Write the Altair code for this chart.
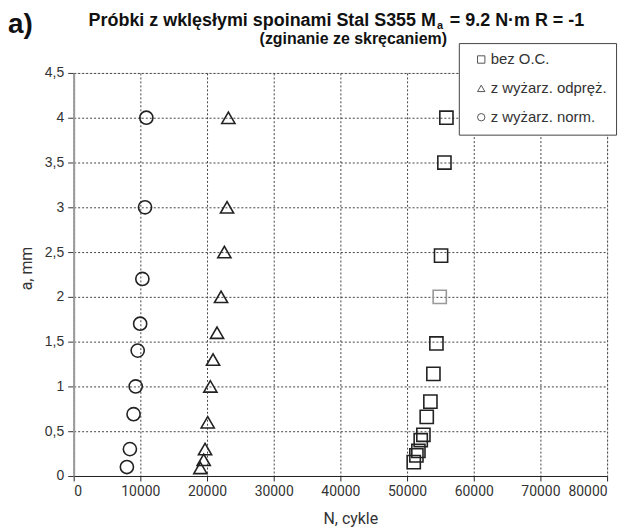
import altair as alt
import pandas as pd

# --- data ---
series_names = ["bez O.C.", "z wyżarz. odpręż.", "z wyżarz. norm."]

sq_N = [55900, 55600, 55100, 54900, 54400, 53950, 53500, 52950, 52450, 52050, 51700, 51400, 51000]
sq_a = [4.0, 3.5, 2.46, 2.0, 1.48, 1.14, 0.83, 0.66, 0.46, 0.40, 0.28, 0.23, 0.155]
sq_gray = [0, 0, 0, 1, 0, 0, 0, 0, 0, 0, 0, 0, 0]

tr_N = [23200, 23000, 22600, 22100, 21500, 20900, 20500, 20100, 19700, 19500, 19000]
tr_a = [4.0, 3.0, 2.5, 2.0, 1.6, 1.3, 1.0, 0.6, 0.3, 0.18, 0.09]

ci_N = [10900, 10700, 10300, 9970, 9600, 9300, 8980, 8430, 7980]
ci_a = [4.0, 3.0, 2.2, 1.7, 1.4, 1.0, 0.69, 0.30, 0.10]

x_ticks = [0, 10000, 20000, 30000, 40000, 50000, 60000, 70000, 80000]
y_ticks = [0, 0.5, 1, 1.5, 2, 2.5, 3, 3.5, 4, 4.5]

title_left = "Próbki z wklęsłymi spoinami Stal S355  M"
title_sub = "a"
title_right = "= 9.2 N·m R = -1"
title_line2 = "(zginanie ze skręcaniem)"
panel_label = "a)"

rows = []
for n, a, g in zip(sq_N, sq_a, sq_gray):
    rows.append({"N": n, "a": a, "seria": series_names[0], "gray": g})
for n, a in zip(tr_N, tr_a):
    rows.append({"N": n, "a": a, "seria": series_names[1], "gray": 0})
for n, a in zip(ci_N, ci_a):
    rows.append({"N": n, "a": a, "seria": series_names[2], "gray": 0})
df = pd.DataFrame(rows)

x_scale = alt.Scale(domain=[0, 80000], nice=False, zero=False)
y_scale = alt.Scale(domain=[0, 4.5], nice=False)

points = alt.Chart(df).mark_point(filled=False, strokeWidth=1.6, opacity=1, size=175).encode(
    x=alt.X("N:Q", scale=x_scale,
            axis=alt.Axis(values=x_ticks, format="d", title="N, cykle",
                          titleX=278, titleY=43, titleBaseline="middle",
                          labelFont="Roboto", labelFontSize=14, labelColor="#333",
                          titleFont="Roboto", titleFontSize=16, titleFontWeight="normal",
                          titleColor="#333", domainColor="#222", tickColor="#222",
                          tickSize=5, labelPadding=4,
                          grid=True, gridDash=[2, 2], gridColor="#444", gridWidth=1)),
    y=alt.Y("a:Q", scale=y_scale,
            axis=alt.Axis(values=y_ticks, title="a, mm",
                          labelExpr="replace(format(datum.value, ''), '.', ',')",
                          titleX=-47, titleY=196, titleAngle=-90, titleBaseline="middle",
                          titleAlign="center",
                          labelFont="Liberation Sans", labelFontSize=14, labelColor="#333",
                          titleFont="Roboto", titleFontSize=16, titleFontWeight="normal",
                          titleColor="#333", domainColor="#999", domainWidth=2,
                          tickColor="#333", tickSize=6, labelPadding=4,
                          grid=True, gridDash=[2, 2], gridColor="#444", gridWidth=1)),
    shape=alt.Shape("seria:N",
                    scale=alt.Scale(domain=series_names,
                                    range=["square", "triangle-up", "circle"]),
                    legend=alt.Legend(title=None, orient="none", legendX=387, legendY=-30,
                                      fillColor="white", strokeColor="#444",
                                      padding=9, rowPadding=13, labelOffset=2,
                                      symbolSize=55, symbolStrokeWidth=1,
                                      symbolStrokeColor="#555", symbolFillColor="transparent",
                                      symbolOffset=6,
                                      labelFont="Liberation Sans", labelFontSize=15,
                                      labelColor="#333", labelLimit=300)),
    stroke=alt.condition(alt.datum.gray == 1, alt.value("#999"), alt.value("#222")),
)

tdf = pd.DataFrame({"t1": [title_left], "t2": [title_sub], "t3": [title_right],
                    "t4": [title_line2], "t5": [panel_label]})
base_t = alt.Chart(tdf)
t1 = base_t.mark_text(align="right", baseline="alphabetic", font="Liberation Sans",
                      fontSize=18, fontWeight="bold", color="#111").encode(
    x=alt.value(364), y=alt.value(-47), text="t1:N")
t2 = base_t.mark_text(align="left", baseline="alphabetic", font="Liberation Sans",
                      fontSize=11, fontWeight="bold", color="#111").encode(
    x=alt.value(365), y=alt.value(-44), text="t2:N")
t3 = base_t.mark_text(align="left", baseline="alphabetic", font="Liberation Sans",
                      fontSize=18, fontWeight="bold", color="#111").encode(
    x=alt.value(378), y=alt.value(-47), text="t3:N")
t4 = base_t.mark_text(align="center", baseline="alphabetic", font="Liberation Sans",
                      fontSize=16, fontWeight="bold", color="#111").encode(
    x=alt.value(281), y=alt.value(-29), text="t4:N")
t5 = base_t.mark_text(align="left", baseline="alphabetic", font="Liberation Sans",
                      fontSize=28, fontWeight="bold", color="#111").encode(
    x=alt.value(-66), y=alt.value(-40), text="t5:N")

chart = alt.layer(points, t1, t2, t3, t4, t5).properties(
    width=536, height=405,
    autosize=alt.AutoSizeParams(type="none"),
    padding={"left": 66, "top": 64, "right": 20, "bottom": 50},
).configure_view(stroke="#555", strokeWidth=1).configure(background="white")

chart.save("out.html", embed_options={"renderer": "svg", "actions": False})
